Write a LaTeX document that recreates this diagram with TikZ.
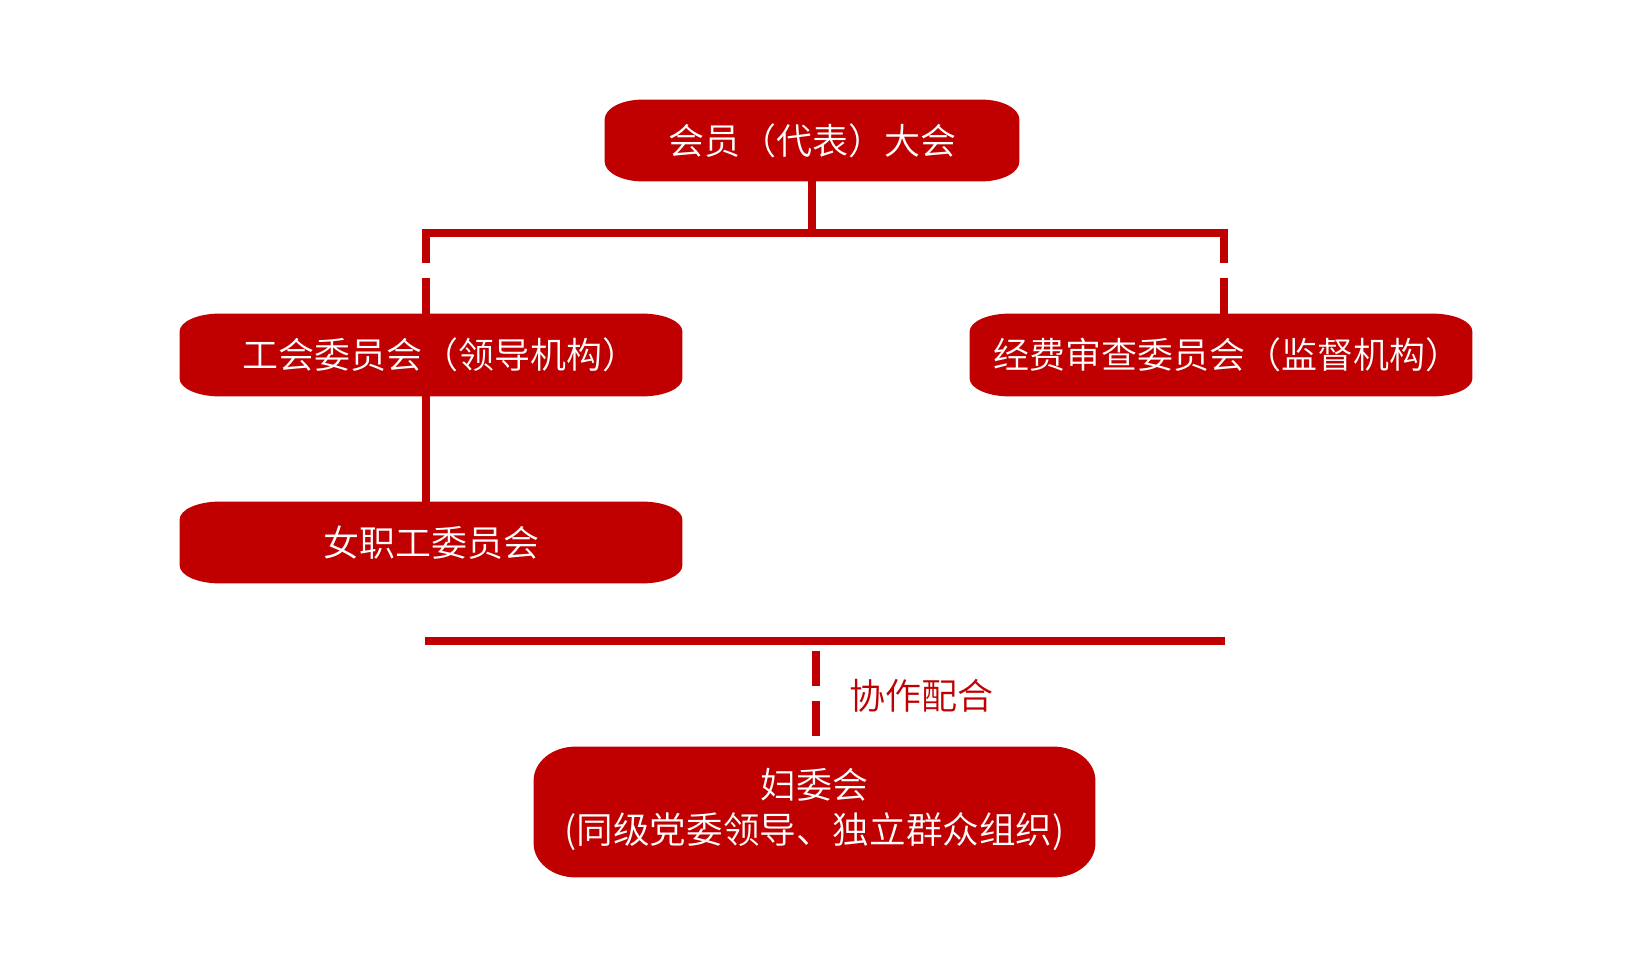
\documentclass[tikz,border=0pt]{standalone}
\usepackage{fontspec}
\setmainfont{Noto Sans CJK SC DemiLight}
\usetikzlibrary{backgrounds,calc}
\definecolor{cred}{RGB}{192,0,0}
% #1 node name, #2 horizontal corner radius, #3 vertical corner radius
\newcommand\eboxfill[3]{%
  \fill[cred] ([xshift=#2]#1.north west) -- ([xshift=-#2]#1.north east)
    arc[start angle=90,end angle=0,x radius=#2,y radius=#3]
    -- ([yshift=#3]#1.south east)
    arc[start angle=0,end angle=-90,x radius=#2,y radius=#3]
    -- ([xshift=#2]#1.south west)
    arc[start angle=270,end angle=180,x radius=#2,y radius=#3]
    -- ([yshift=-#3]#1.north west)
    arc[start angle=180,end angle=90,x radius=#2,y radius=#3] -- cycle;}
\begin{document}
\begin{tikzpicture}[x=0.5pt,y=-0.5pt,
  box/.style={inner sep=0pt, text=white, align=center,
    font=\fontsize{18pt}{22.5pt}\selectfont},
  conn/.style={draw=cred, line width=4pt},
  gapdash/.style={dash pattern=on 17pt off 7.5pt on 200pt}]
\useasboundingbox (0,0) rectangle (1652,977);
% nodes
\node[box, minimum width=207pt, minimum height=40.5pt] (top) at (812,140.5) {会员（代表）大会};
\node[box, minimum width=251pt, minimum height=41pt] (lead) at (431,355) {\hspace*{9pt}工会委员会（领导机构）};
\node[box, minimum width=251pt, minimum height=41pt] (audit) at (1221,355) {\hspace*{6pt}经费审查委员会（监督机构）};
\node[box, minimum width=251pt, minimum height=40.5pt] (nvzhi) at (431,542.5) {女职工委员会};
\node[box, minimum width=280.5pt, minimum height=65pt] (fuwei) at (814.5,812)
  {\raisebox{2.5pt}{\begin{tabular}{@{}c@{}}妇委会\\{\fontsize{18.3pt}{22.5pt}\selectfont(同级党委领导、独立群众组织)}\end{tabular}}};
\node[text=cred, inner sep=0pt, font=\fontsize{18pt}{22pt}\selectfont] (coop) at (921,696) {协作配合};
% box backgrounds
\begin{scope}[on background layer]
  \eboxfill{top}{19pt}{10pt}
  \eboxfill{lead}{20pt}{9pt}
  \eboxfill{audit}{20pt}{9pt}
  \eboxfill{nvzhi}{20pt}{9pt}
  \eboxfill{fuwei}{21pt}{17pt}
\end{scope}
% junction coordinates
\coordinate (jm) at (812,233);
\coordinate (jl) at (426,233);
\coordinate (jr) at (1224,233);
\coordinate (jlt) at (426,229);
\coordinate (jrt) at (1224,229);
\coordinate (cl) at (425,641);
\coordinate (cr) at (1225,641);
\coordinate (cm) at (816,641);
% connectors
\draw[conn] (top.south) -- (jm);
\draw[conn] ([xshift=-2pt]jl) -- ([xshift=2pt]jr);
\draw[conn, gapdash] (jlt) -- (lead.north -| jlt);
\draw[conn, gapdash] (jrt) -- (audit.north -| jrt);
\draw[conn] (lead.south -| jl) -- (nvzhi.north -| jl);
\draw[conn] (cl) -- (cr);
\draw[conn, dash pattern=on 17.5pt off 7.5pt on 17.5pt off 20pt, shorten <=5pt, shorten >=5.5pt] (cm) -- (fuwei.north -| cm);
\end{tikzpicture}
\end{document}
